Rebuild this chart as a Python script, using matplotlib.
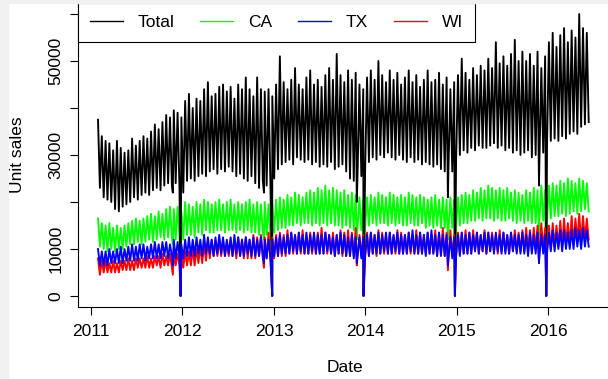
import numpy as np
import matplotlib
matplotlib.use('Agg')
import matplotlib.pyplot as plt
import matplotlib.dates as mdates
from matplotlib.lines import Line2D
from matplotlib.patches import Rectangle

plt.rcParams['font.family'] = ['Liberation Sans', 'DejaVu Sans']

# half-month readings (thousands of units): weekend peaks and weekday troughs,
# starting 2011-01-29; one line per year (2011 ... 2016)
total_hi = [37.5, 34, 33, 32.5, 31, 33, 31.5, 30.5, 31, 33.5, 32, 33, 34, 33.5, 35, 36.5, 35.5, 37, 38.5, 38, 39.5, 39,
            38, 41.5, 43, 40, 42, 41.5, 44, 45.5, 42.5, 43, 44.5, 45, 43.5, 44.5, 42, 45, 44, 46.5, 44, 42.5, 46.5, 44, 43.5, 44,
            42.5, 45, 51, 45.5, 44, 46, 48.5, 45, 44, 46.5, 48, 45, 46, 44.5, 47, 48.5, 46, 51.5, 47, 45.5, 48, 46, 47.5, 45,
            44, 46.5, 48, 46, 50, 47, 45.5, 48, 46, 47.5, 45, 46.5, 48, 45.5, 47, 44.5, 46, 48, 45.5, 46, 47.5, 45, 46.5, 44,
            45.5, 47, 50.5, 47.5, 46, 48.5, 47, 49, 48, 50.5, 48.5, 54, 49.5, 51, 49, 51.5, 54.5, 50, 52, 50, 51.5, 49, 52, 48.5,
            51, 54, 56, 53, 55.5, 57, 54, 56.5, 55, 60, 57, 56]
total_lo = [23, 21, 20.5, 20, 18.5, 18, 19, 19.5, 20, 21, 20.5, 21.5, 22, 21.5, 22.5, 23, 22.5, 23.5, 24, 23.5, 24, 23,
            22, 24.5, 25, 24.5, 25.5, 26, 25.5, 26.5, 27, 26, 27, 26.5, 27.5, 26.5, 25.5, 26, 25, 24.5, 25.5, 24, 23, 24.5, 23.5, 24,
            25, 27, 28, 28.5, 29, 28, 29.5, 29, 28.5, 29, 28, 28.5, 27.5, 28, 27.5, 28.5, 27, 27.5, 28, 26.5, 25, 24.5, 26, 25.5,
            27, 28.5, 29.5, 29, 30, 29.5, 30.5, 29.5, 29, 30, 29, 28.5, 29.5, 28.5, 29, 28, 28.5, 28, 27.5, 28, 27, 26.5, 27.5, 26.5,
            28.5, 30, 31, 30.5, 31.5, 31, 32, 31.5, 31.5, 32, 32.5, 31.5, 32, 31, 31.5, 30.5, 31, 30, 30.5, 31, 29.5, 30, 29, 30.5,
            32, 33, 33.5, 33, 34, 33.5, 34.5, 35, 34.5, 36, 36.5, 37]
ca_hi = [16.5, 15.5, 15, 15.5, 14.5, 15, 14.5, 15, 15.5, 16, 16.5, 16, 16.5, 17, 17.5, 17, 18, 17.5, 18.5, 19, 18.5, 19,
         18, 20, 19.5, 19, 20, 19.5, 20.5, 20, 19.5, 20, 20.5, 19.5, 20, 20.5, 19.5, 20, 19.5, 20, 20.5, 19.5, 20, 19.5, 20, 19.5,
         19.5, 20.5, 21, 20.5, 21.5, 21, 22, 21.5, 21, 22, 22.5, 22, 23, 22.5, 23.5, 22.5, 23, 22.5, 22, 22.5, 21.5, 22, 21.5, 21,
         20.5, 21, 21.5, 21, 22, 21.5, 21, 22, 21.5, 21, 21.5, 21, 22, 21.5, 21, 21.5, 21, 20.5, 21, 21.5, 20.5, 21, 20.5, 21,
         20.5, 21, 21.5, 22, 21.5, 22.5, 22, 23, 22.5, 23.5, 23, 22.5, 23, 22.5, 23, 22, 22.5, 22, 21.5, 22.5, 22, 23, 22.5, 23.5,
         22.5, 23.5, 24, 23.5, 24.5, 24, 25, 24.5, 24, 25, 24.5, 24]
ca_lo = [10.5, 10, 9.5, 10, 9.5, 10, 10, 10.5, 11, 11, 11.5, 11, 11.5, 12, 11.5, 12, 12.5, 12, 12.5, 12.5, 12, 12.5,
         12, 13, 13, 12.5, 13.5, 13, 14, 13.5, 13.5, 14, 14, 13.5, 14, 14, 13.5, 14, 13.5, 14, 13.5, 13.5, 13, 13.5, 13, 13,
         13.5, 14, 14.5, 14.5, 15, 15, 15.5, 15, 15.5, 15.5, 15, 15.5, 15, 15.5, 15, 15.5, 15, 15, 14.5, 15, 14.5, 14, 14.5, 14,
         14.5, 15, 15.5, 15, 15.5, 15.5, 15, 15.5, 15, 15.5, 15, 15, 15.5, 15, 15, 15.5, 14.5, 15, 14.5, 15, 14.5, 14.5, 14, 14.5,
         14.5, 15, 15.5, 15.5, 16, 16, 16.5, 16, 16.5, 16.5, 16, 16.5, 16, 16, 16.5, 16, 15.5, 16, 15.5, 16, 15.5, 15.5, 16, 16,
         16, 16.5, 17, 17, 17.5, 17, 17.5, 18, 17.5, 18, 18.5, 18]
tx_hi = [10, 9.5, 9.5, 10, 9.5, 10, 10.5, 10, 10.5, 11, 10.5, 11, 11, 10.5, 11, 11.5, 11, 11.5, 11.5, 11, 12, 11.5,
         11, 12, 12.5, 12, 12.5, 12, 13, 12.5, 12, 12.5, 13, 12.5, 12, 12.5, 13, 12.5, 12, 12.5, 12, 12.5, 12, 12.5, 12, 12,
         12, 12.5, 13, 12.5, 13, 13.5, 13, 13.5, 13, 13.5, 13, 13.5, 13, 13, 13.5, 13, 12.5, 13, 13.5, 13, 12.5, 13, 12.5, 12.5,
         12.5, 13, 13.5, 13, 13.5, 13, 13.5, 13.5, 13, 13.5, 13, 13, 13.5, 14, 13, 13.5, 13, 13.5, 14, 13, 13.5, 13, 13, 12.5,
         12.5, 13, 13.5, 13, 13.5, 13, 13.5, 13, 13.5, 13.5, 13, 13.5, 13, 13.5, 13, 13.5, 13, 13, 13.5, 13, 13.5, 13, 13.5, 13,
         13, 13.5, 14, 13.5, 14, 14, 13.5, 14, 14.5, 14, 14.5, 14]
tx_lo = [6.5, 6.5, 6.5, 7, 7, 7, 7, 7.5, 7.5, 7.5, 7.5, 8, 7.5, 8, 8, 8, 8, 8.5, 8, 8.5, 8, 8.5,
         8, 8.5, 8.5, 8.5, 9, 8.5, 9, 9, 8.5, 9, 9, 8.5, 9, 8.5, 9, 8.5, 8.5, 9, 8.5, 8.5, 8.5, 8.5, 8, 8,
         8.5, 8.5, 9, 9, 9, 9.5, 9, 9.5, 9, 9, 9.5, 9, 9, 9, 9.5, 9, 8.5, 9, 9, 8.5, 8.5, 8, 8.5, 8,
         8.5, 8.5, 9, 9, 9, 9.5, 9, 9, 9.5, 9, 9, 9, 9.5, 9, 9, 9, 8.5, 9, 9, 8.5, 8.5, 8.5, 8, 8,
         8.5, 8.5, 9, 9, 9, 9.5, 9, 9.5, 9, 9.5, 9, 9.5, 9, 9, 9, 9.5, 9, 9, 9, 8.5, 9, 9, 8.5, 9,
         9, 9.5, 9.5, 10, 9.5, 10, 10, 10, 10.5, 10, 10.5, 10.5]
wi_hi = [8, 7.5, 7.5, 7, 7.5, 7, 7.5, 7.5, 8, 7.5, 8, 8, 8, 8.5, 8, 8.5, 8.5, 9, 8.5, 9, 9, 9,
         9, 9.5, 9.5, 10, 10, 10.5, 11, 11.5, 12, 11.5, 12, 12, 11.5, 12, 12, 12.5, 12, 12.5, 12, 13, 12.5, 13, 12.5, 13.5,
         12.5, 13, 13.5, 13, 14, 13.5, 13, 13.5, 14, 13, 13.5, 13, 13.5, 14.5, 13.5, 13, 13.5, 13, 14, 13.5, 14, 13.5, 14.5, 13,
         13, 13.5, 13.5, 13, 14, 13.5, 13, 13.5, 13, 14, 13.5, 13, 13.5, 13, 14, 13.5, 13, 13.5, 13, 14, 13.5, 14.5, 13.5, 14,
         13, 13.5, 13.5, 14, 13.5, 14, 13.5, 13, 14, 13.5, 13.5, 13, 14, 13.5, 13, 13.5, 14, 13.5, 14, 14.5, 14, 14.5, 15, 15.5,
         14.5, 15, 15.5, 15, 16, 16.5, 15.5, 17, 16.5, 17.5, 17, 16.5]
wi_lo = [4.5, 5, 5, 5, 5, 5, 5.5, 5.5, 5.5, 5.5, 6, 6, 6, 6, 6, 6.5, 6, 6.5, 6.5, 6, 6.5, 6.5,
         6, 6.5, 6.5, 6.5, 7, 7, 7.5, 8, 8.5, 8.5, 8.5, 8.5, 8.5, 8.5, 8, 8.5, 8, 8, 8, 8, 8.5, 8, 8, 8,
         8, 8.5, 8.5, 8.5, 9, 9, 9, 9, 9, 9, 9, 9, 9, 9, 9, 9, 8.5, 9, 8.5, 8.5, 8.5, 8.5, 8.5, 8.5,
         8.5, 8.5, 9, 8.5, 9, 9, 9, 9, 9, 9, 9, 9, 9, 9, 9, 9, 9, 9, 9, 8.5, 9, 8.5, 8.5, 8.5,
         8.5, 9, 9, 9, 9, 9.5, 9, 9.5, 9, 9.5, 9.5, 9, 9.5, 9.5, 9, 9.5, 9.5, 9.5, 9.5, 9.5, 9.5, 10, 10, 10,
         10, 10, 10.5, 10.5, 10.5, 11, 11, 11, 11.5, 11.5, 12, 12]

# store-closure / holiday dips (thousands)
holidays = ['2011-11-24', '2011-12-25', '2012-11-22', '2012-12-25', '2013-11-28',
            '2013-12-25', '2014-11-27', '2014-12-25', '2015-11-26', '2015-12-25']
total_hol = [22, 0.02, 22, 0.02, 20, 0.02, 21, 0.02, 23.5, 0.02]
ca_hol = [11, 0.01, 12, 0.01, 12, 0.01, 12, 0.01, 13, 0.01]
tx_hol = [6.5, 0, 7, 0, 7, 0, 6.5, 0, 7, 0]
wi_hol = [4.5, 0, 6, 0, 6.5, 0, 5.5, 0, 7, 0]

start = mdates.date2num(np.datetime64('2011-01-29'))
step = 15.14
hol_t = mdates.date2num(np.array(holidays, dtype='datetime64[D]'))


def series(hi, lo, hol):
    t_hi = start + step * np.arange(len(hi))
    t_lo = t_hi + step / 2
    t = np.concatenate([t_hi, t_lo, hol_t])
    v = np.concatenate([hi, lo, hol]) * 1000
    order = np.argsort(t)
    return t[order], v[order]


fs = 12.5
fig = plt.figure(figsize=(6.08, 3.79), dpi=100)
fig.patches.append(Rectangle((0, 0), 8 / 608, 1, transform=fig.transFigure,
                             color='#f0f0f0', zorder=0))
fig.patches.append(Rectangle((0, 1 - 3 / 379), 1, 3 / 379, transform=fig.transFigure,
                             color='#f0f0f0', zorder=0))
ax = fig.add_axes([78 / 608, 72 / 379, 530 / 608, 304 / 379])
ax.patch.set_alpha(0)

lw = 1.35
ax.plot(*series(ca_hi, ca_lo, ca_hol), color='#00ff00', lw=lw, zorder=2)
ax.plot(*series(total_hi, total_lo, total_hol), color='black', lw=lw, zorder=3)
ax.plot(*series(wi_hi, wi_lo, wi_hol), color='#ff0000', lw=lw, zorder=4)
ax.plot(*series(tx_hi, tx_lo, tx_hol), color='#0000ff', lw=lw, zorder=5)

years = [2011, 2012, 2013, 2014, 2015, 2016]
year_t = mdates.date2num(np.array([f'{y}-01-01' for y in years], dtype='datetime64[D]'))
ax.set_xticks(year_t)
ax.set_xticklabels([str(y) for y in years])
x0 = year_t[0] - 13 / 91.4 * 365.25
x1 = year_t[-1] + 60 / 91.4 * 365.25
ax.set_xlim(x0, x1)

ax.set_ylim(-2340, 62340)
ax.set_yticks(range(0, 60001, 10000))
ax.set_yticklabels(['0', '10000', '', '30000', '', '50000', ''])

for s in ['top', 'right']:
    ax.spines[s].set_visible(False)
for s in ['left', 'bottom']:
    ax.spines[s].set_linewidth(0.8)
ax.tick_params(length=5.8, width=0.8, labelsize=fs, color='black')
ax.tick_params(axis='x', pad=6.5)
ax.tick_params(axis='y', pad=4.5, labelrotation=90)
for lab in ax.get_yticklabels():
    lab.set_va('center')

fig.text(345 / 608, 1 - 368 / 379, 'Date', ha='center', va='center', fontsize=fs)
fig.text(18 / 608, 1 - 155 / 379, 'Unit sales', ha='center', va='center',
         rotation=90, fontsize=fs)

handles = [Line2D([], [], color=c, lw=1.0) for c in ['black', '#00ff00', '#0000ff', '#ff0000']]
leg = ax.legend(handles, ['Total', 'CA', 'TX', 'WI'], loc='upper left',
                bbox_to_anchor=(0, 1), ncol=4, frameon=True, fancybox=False,
                edgecolor='black', framealpha=1, borderaxespad=0, fontsize=fs,
                handlelength=1.9, handletextpad=0.85, columnspacing=1.5,
                borderpad=0.68)
leg.get_frame().set_linewidth(0.8)
leg.set_zorder(10)

fig.savefig('out.png', dpi=100)
